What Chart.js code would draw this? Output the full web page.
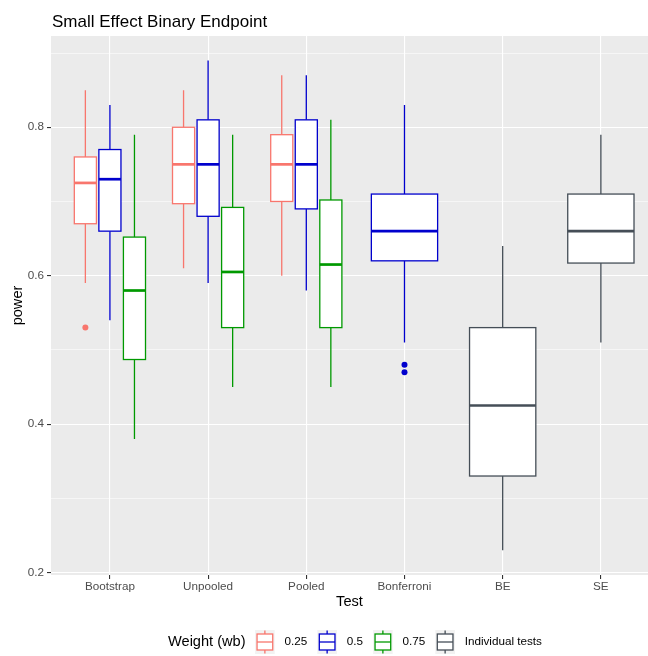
<!DOCTYPE html>
<html>
<head>
<meta charset="utf-8">
<script src="https://cdn.jsdelivr.net/npm/chart.js@4.4.0/dist/chart.umd.min.js"></script>
<style>
html, body { margin: 0; padding: 0; background: #fff; overflow: hidden; }
#wrap { width: 648px; height: 656px; }
canvas { display: block; }
</style>
</head>
<body>
<div id="wrap"><canvas id="chart" width="648" height="656"></canvas></div>
<script>
const categories = ['Bootstrap', 'Unpooled', 'Pooled', 'Bonferroni', 'BE', 'SE'];
const seriesNames = ['0.25', '0.5', '0.75', 'Individual tests'];

// [lower whisker, Q1, median, Q3, upper whisker] per test, null = no box there
const box025 = [[0.59, 0.67, 0.725, 0.76, 0.85], [0.61, 0.697, 0.75, 0.80, 0.85], [0.60, 0.70, 0.75, 0.79, 0.87], null, null, null];
const box05 = [[0.54, 0.66, 0.73, 0.77, 0.83], [0.59, 0.68, 0.75, 0.81, 0.89], [0.58, 0.69, 0.75, 0.81, 0.87], [0.51, 0.62, 0.66, 0.71, 0.83], null, null];
const box075 = [[0.38, 0.487, 0.58, 0.652, 0.79], [0.45, 0.53, 0.605, 0.692, 0.79], [0.45, 0.53, 0.615, 0.702, 0.81], null, null, null];
const boxInd = [null, null, null, null, [0.23, 0.33, 0.425, 0.53, 0.64], [0.51, 0.617, 0.66, 0.71, 0.79]];

// outliers
const out025 = [[0.53], [], [], [], [], []];
const out05 = [[], [], [], [0.48, 0.47], [], []];
const out075 = [[], [], [], [], [], []];
const outInd = [[], [], [], [], [], []];

const yMajor = [0.2, 0.4, 0.6, 0.8];
const yMinor = [0.3, 0.5, 0.7, 0.9];

const colors = ['#F8766D', '#0000CD', '#009900', '#454E57'];
const FONT = '"Liberation Sans", Arial, Helvetica, sans-serif';
Chart.defaults.font.family = FONT;

const boxes = [box025, box05, box075, boxInd];
const outs = [out025, out05, out075, outInd];

// ggplot style dodge: boxes at one test share 0.75 of the slot
function dodge(s, c) {
    const present = boxes.map((b, i) => b[c] ? i : -1).filter(i => i >= 0);
    const slot = 0.75 / present.length;
    const k = present.indexOf(s);
    return { x: c - 0.375 + slot * (k + 0.5), w: slot * 0.9 };
}

const bgPlugin = {
    id: 'panelBg',
    beforeDraw(chart) {
        const { ctx, chartArea: a } = chart;
        ctx.save();
        ctx.fillStyle = '#EBEBEB';
        ctx.fillRect(a.left, a.top, a.right - a.left, a.bottom - a.top);
        ctx.restore();
    }
};

const boxPlugin = {
    id: 'boxes',
    beforeDatasetsDraw(chart) {
        const { ctx, scales: { x, y } } = chart;
        boxes.forEach((series, s) => {
            series.forEach((b, c) => {
                if (!b) return;
                const d = dodge(s, c);
                const cx = x.getPixelForValue(d.x);
                const l = x.getPixelForValue(d.x - d.w / 2);
                const r = x.getPixelForValue(d.x + d.w / 2);
                const [lo, q1, med, q3, hi] = b.map(v => y.getPixelForValue(v));
                ctx.save();
                ctx.strokeStyle = colors[s];
                ctx.lineWidth = 1.3;
                ctx.beginPath();
                ctx.moveTo(cx, hi); ctx.lineTo(cx, q3);
                ctx.moveTo(cx, q1); ctx.lineTo(cx, lo);
                ctx.stroke();
                ctx.fillStyle = '#fff';
                ctx.fillRect(l, q3, r - l, q1 - q3);
                ctx.strokeRect(l, q3, r - l, q1 - q3);
                ctx.lineWidth = 2.7;
                ctx.beginPath();
                ctx.moveTo(l, med); ctx.lineTo(r, med);
                ctx.stroke();
                ctx.restore();
            });
        });
    }
};

const textPlugin = {
    id: 'texts',
    afterDraw(chart) {
        const { ctx } = chart;
        ctx.save();
        ctx.fillStyle = '#000';
        ctx.font = '17px ' + FONT;
        ctx.textBaseline = 'alphabetic';
        ctx.fillText('Small Effect Binary Endpoint', 52, 26.7);

        // legend
        const cy = 642;
        let lx = 168;
        ctx.textBaseline = 'middle';
        ctx.font = '14.6px ' + FONT;
        ctx.fillText('Weight (wb)', lx, cy);
        lx += ctx.measureText('Weight (wb)').width + 9.5;
        const kw = 19.6, kh = 24;
        seriesNames.forEach((name, s) => {
            const top = cy - kh / 2;
            ctx.fillStyle = '#F2F2F2';
            ctx.fillRect(lx, top, kw, kh);
            ctx.strokeStyle = colors[s];
            ctx.lineWidth = 1.3;
            const mx = lx + kw / 2;
            ctx.beginPath();
            ctx.moveTo(mx, cy - 11.5); ctx.lineTo(mx, cy - 8);
            ctx.moveTo(mx, cy + 8); ctx.lineTo(mx, cy + 11.5);
            ctx.stroke();
            ctx.fillStyle = '#fff';
            ctx.fillRect(lx + kw * 0.1, cy - 8, kw * 0.8, 16);
            ctx.strokeRect(lx + kw * 0.1, cy - 8, kw * 0.8, 16);
            ctx.beginPath();
            ctx.moveTo(lx + kw * 0.1, cy); ctx.lineTo(lx + kw * 0.9, cy);
            ctx.stroke();
            lx += kw + 9.7;
            ctx.fillStyle = '#000';
            ctx.font = '11.7px ' + FONT;
            ctx.fillText(name, lx, cy);
            lx += ctx.measureText(name).width + 10.2;
        });
        ctx.restore();
    }
};

const datasets = outs.map((series, s) => ({
    label: seriesNames[s],
    data: series.flatMap((vals, c) => vals.map(v => ({ x: dodge(s, c).x, y: v }))),
    backgroundColor: colors[s],
    borderColor: colors[s],
    borderWidth: 0,
    pointRadius: 3,
    pointHoverRadius: 3
}));

const isMinor = c => c.tick && c.tick.minor;

new Chart(document.getElementById('chart').getContext('2d'), {
    type: 'scatter',
    data: { datasets: datasets },
    options: {
        responsive: false,
        animation: false,
        devicePixelRatio: 1,
        layout: { autoPadding: false, padding: { top: 36, bottom: 41, left: 0, right: 0 } },
        plugins: {
            legend: { display: false },
            tooltip: { enabled: false },
            title: { display: false }
        },
        scales: {
            x: {
                type: 'linear',
                min: -0.6,
                max: 5.48,
                afterBuildTicks: s => { s.ticks = categories.map((_, i) => ({ value: i })); },
                afterFit: s => { s.height = 40; s.paddingLeft = 0; s.paddingRight = 0; },
                ticks: {
                    callback: (v, i) => categories[i],
                    color: '#4D4D4D',
                    font: { size: 11.7 },
                    padding: 1,
                    autoSkip: false,
                    maxRotation: 0
                },
                grid: { color: '#FFFFFF', lineWidth: 1.1, tickColor: '#333333', tickLength: 4, tickWidth: 1.1 },
                border: { display: false },
                title: { display: true, text: 'Test', color: '#000', font: { size: 14.6 }, padding: { top: 0, bottom: 4 } }
            },
            y: {
                type: 'linear',
                min: 0.1966,
                max: 0.923,
                afterBuildTicks: s => {
                    s.ticks = yMajor.map(v => ({ value: v }))
                        .concat(yMinor.map(v => ({ value: v, minor: true })))
                        .sort((a, b) => a.value - b.value);
                },
                afterFit: s => { s.width = 51; },
                ticks: {
                    callback: (v, i, t) => t[i].minor ? '' : v.toFixed(1),
                    color: '#4D4D4D',
                    font: { size: 11.7 },
                    padding: 3,
                    autoSkip: false
                },
                grid: {
                    color: '#FFFFFF',
                    lineWidth: c => isMinor(c) ? 0.55 : 1.1,
                    tickColor: c => isMinor(c) ? 'rgba(0,0,0,0)' : '#333333',
                    tickLength: 4,
                    tickWidth: 1.1
                },
                border: { display: false },
                title: { display: true, text: 'power', color: '#000', font: { size: 14.6 }, padding: { top: 9, bottom: 0 } }
            }
        }
    },
    plugins: [bgPlugin, boxPlugin, textPlugin]
});
</script>
</body>
</html>
